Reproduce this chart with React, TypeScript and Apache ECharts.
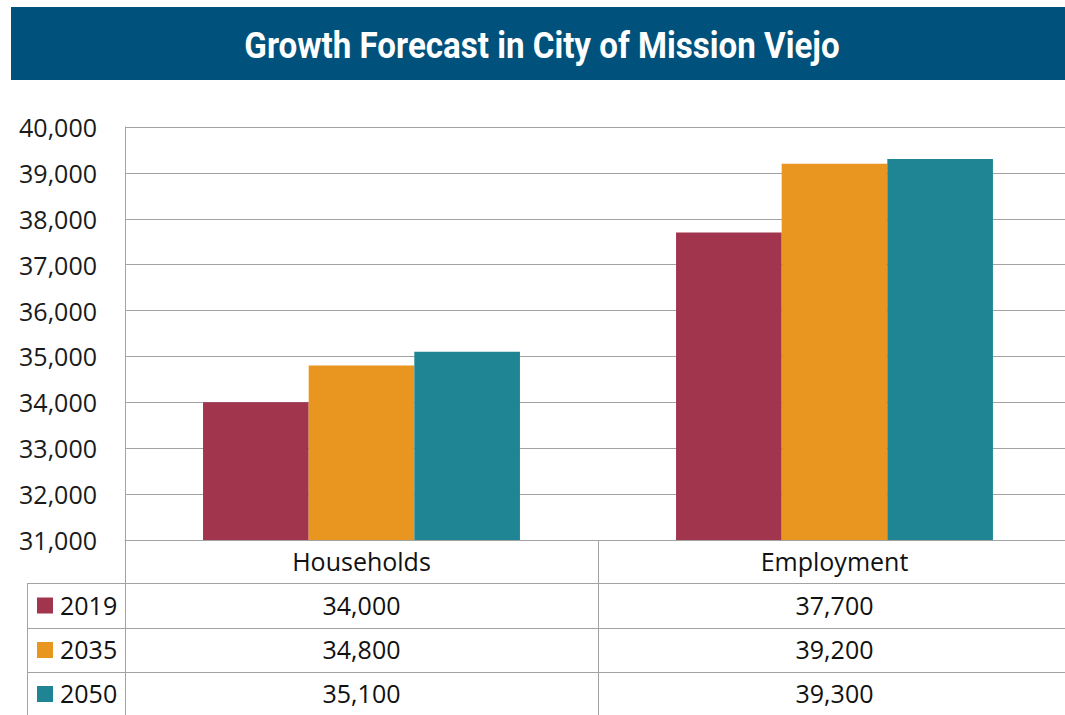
import React, { useEffect, useRef } from "react";
import * as echarts from "echarts";

const categories = ["Households", "Employment"];
const years = ["2019", "2035", "2050"];
const values2019 = [34000, 37700];
const values2035 = [34800, 39200];
const values2050 = [35100, 39300];
const seriesValues = [values2019, values2035, values2050];
const colors = ["#A0354D", "#E8961F", "#1F8595"];
const yMin = 31000;
const yMax = 40000;
const yStep = 1000;
const titleText = "Growth Forecast in City of Mission Viejo";

const W = 1065;
const CW = 1080; // inner canvas width (overflow clipped) so the plot can run past the page edge
const H = 715;
const FONT = "'Open Sans', 'Noto Sans', sans-serif";
const LINE = "#a3a3a3";

const fmt = (n: number) => n.toLocaleString("en-US");

export default function App() {
  const ref = useRef<HTMLDivElement>(null);

  useEffect(() => {
    document.body.style.margin = "0";
    const el = ref.current!;
    const chart = echarts.init(el, null, { renderer: "svg" });

    const gridLeft = 125;
    const gridTop = 127;
    const gridWidth = 946;
    const gridBottom = H - 540;

    chart.setOption({
      animation: false,
      backgroundColor: "#ffffff",
      grid: { left: gridLeft, top: gridTop, width: gridWidth, bottom: gridBottom, containLabel: false },
      xAxis: {
        type: "category",
        data: categories,
        axisLine: { show: true, lineStyle: { color: LINE, width: 1 } },
        axisTick: { show: false },
        axisLabel: { show: false },
      },
      yAxis: {
        type: "value",
        min: yMin,
        max: yMax,
        interval: yStep,
        axisLine: { show: true, lineStyle: { color: LINE, width: 1 } },
        axisTick: { show: false },
        splitLine: { show: true, lineStyle: { color: LINE, width: 1 } },
        axisLabel: {
          formatter: (v: number) => fmt(v),
          fontFamily: FONT,
          fontSize: 25,
          color: "#1a1a1a",
          margin: 28,
        },
      },
      series: years.map((y, i) => ({
        name: y,
        type: "bar",
        data: seriesValues[i],
        barGap: "0%",
        barCategoryGap: "33%",
        itemStyle: { color: colors[i] },
      })),
    });

    const centers = categories.map((c) => chart.convertToPixel({ xAxisIndex: 0 }, c) as number);
    const yBase = Math.round(chart.convertToPixel({ yAxisIndex: 0 }, yMin) as number);
    const colDiv = Math.round((centers[0] + centers[1]) / 2);
    const rowTops = [yBase, yBase + 43, yBase + 88, yBase + 132, yBase + 176];
    const legendLeft = 27;

    // title scaling to mimic condensed font
    const titleFont = "bold 37px Roboto";
    let scaleX = 1;
    try {
      const cv = document.createElement("canvas");
      const ctx = cv.getContext("2d")!;
      ctx.font = titleFont;
      const w = ctx.measureText(titleText).width;
      if (w > 0) scaleX = 595 / w;
    } catch (e) {}

    const elements: any[] = [];
    elements.push({
      type: "rect",
      shape: { x: 11, y: 7, width: W - 11, height: 73 },
      style: { fill: "#00527D" },
      z: 10,
    });
    elements.push({
      type: "text",
      x: 542,
      y: 45,
      scaleX,
      scaleY: 1,
      style: {
        text: titleText,
        fill: "#ffffff",
        fontFamily: "Roboto",
        fontWeight: "bold",
        fontSize: 37,
        align: "center",
        verticalAlign: "middle",
      },
      z: 11,
    });

    const hLine = (x1: number, x2: number, y: number) => ({
      type: "line",
      shape: { x1, y1: y + 0.5, x2, y2: y + 0.5 },
      style: { stroke: LINE, lineWidth: 1 },
      z: 5,
    });
    const vLine = (x: number, y1: number, y2: number) => ({
      type: "line",
      shape: { x1: x + 0.5, y1, x2: x + 0.5, y2 },
      style: { stroke: LINE, lineWidth: 1 },
      z: 5,
    });

    // table lines
    for (let r = 1; r <= 3; r++) elements.push(hLine(legendLeft, CW, rowTops[r]));
    elements.push(vLine(gridLeft, yBase, H));
    elements.push(vLine(colDiv, yBase, H));
    elements.push(vLine(legendLeft, rowTops[1], H));

    // header
    categories.forEach((c, i) => {
      elements.push({
        type: "text",
        x: centers[i],
        y: (rowTops[0] + rowTops[1]) / 2 - 1,
        style: {
          text: c,
          fill: "#111111",
          fontFamily: FONT,
          fontSize: 25,
          align: "center",
          verticalAlign: "middle",
        },
        z: 6,
      });
    });

    years.forEach((y, r) => {
      const cy = (rowTops[r + 1] + rowTops[r + 2]) / 2 - 1;
      elements.push({
        type: "rect",
        shape: { x: 37, y: cy - 7, width: 16, height: 16 },
        style: { fill: colors[r] },
        z: 6,
      });
      elements.push({
        type: "text",
        x: 60,
        y: cy,
        style: {
          text: y,
          fill: "#111111",
          fontFamily: FONT,
          fontSize: 25,
          align: "left",
          verticalAlign: "middle",
        },
        z: 6,
      });
      categories.forEach((c, i) => {
        elements.push({
          type: "text",
          x: centers[i],
          y: cy,
          style: {
            text: fmt(seriesValues[r][i]),
            fill: "#111111",
            fontFamily: FONT,
            fontSize: 25,
            align: "center",
            verticalAlign: "middle",
          },
          z: 6,
        });
      });
    });

    chart.setOption({ graphic: { elements } });

    return () => chart.dispose();
  }, []);

  return (
    <div style={{ width: W, height: H, overflow: "hidden", position: "relative" }}>
      <div ref={ref} style={{ width: CW, height: H }} />
    </div>
  );
}
